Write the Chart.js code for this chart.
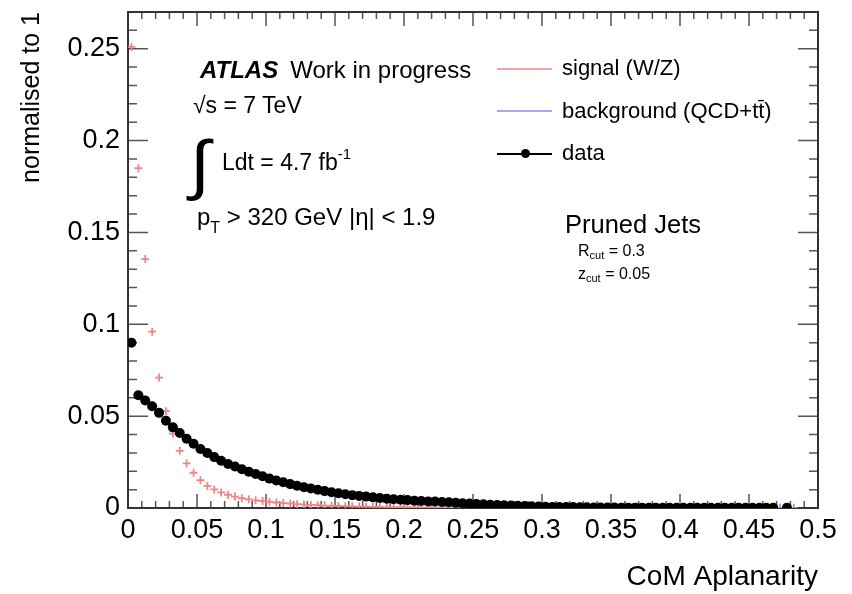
<!DOCTYPE html>
<html>
<head>
<meta charset="utf-8">
<script src="https://cdn.jsdelivr.net/npm/chart.js@4.4.0/dist/chart.umd.min.js"></script>
<style>
    body { margin: 0; background: #fff; }
    #wrap { position: relative; width: 852px; height: 594px; font-family: "Liberation Sans", Arial, sans-serif; color: #000; }
    #wrap div.t { position: absolute; line-height: 1; white-space: nowrap; }
    .sub { position: relative; }
    .lg { position: absolute; height: 2px; }
</style>
</head>
<body>
<div id="wrap">
    <canvas id="myChart" width="852" height="594"></canvas>

    <div class="t" style="left:200px; top:57.7px; font-size:24px;"><b><i>ATLAS</i></b><span style="margin-left:12px;">Work in progress</span></div>
    <div class="t" style="left:193px; top:93.5px; font-size:23px;">√s = 7 TeV</div>
    <div class="t" style="left:190px; top:131px; font-size:66px; transform:scaleX(1.1); transform-origin:left top;">∫</div>
    <div class="t" style="left:222px; top:150.5px; font-size:23px;">Ldt = 4.7 fb<span class="sub" style="font-size:15px; top:-11px;">-1</span></div>
    <div class="t" style="left:197px; top:204.7px; font-size:24px;">p<span class="sub" style="font-size:16px; top:8px;">T</span> &gt; 320 GeV |η| &lt; 1.9</div>

    <div class="lg" style="left:497px; top:68px; width:55px; background:#f4a3a3;"></div>
    <div class="t" style="left:562px; top:57.4px; font-size:22px;">signal (W/Z)</div>
    <div class="lg" style="left:497px; top:110px; width:55px; background:#a3aaf4;"></div>
    <div class="t" style="left:562px; top:100.4px; font-size:22px;">background (QCD+tt̄)</div>
    <div class="lg" style="left:497px; top:152.5px; width:55px; background:#000;"></div>
    <div style="position:absolute; left:520.5px; top:149px; width:9px; height:9px; border-radius:50%; background:#000;"></div>
    <div class="t" style="left:562px; top:142.4px; font-size:22px;">data</div>

    <div class="t" style="left:565px; top:212.4px; font-size:25.5px;">Pruned Jets</div>
    <div class="t" style="left:578px; top:242.5px; font-size:16px;">R<span class="sub" style="font-size:11px; top:3px;">cut</span> = 0.3</div>
    <div class="t" style="left:578px; top:265.5px; font-size:16px;">z<span class="sub" style="font-size:11px; top:3px;">cut</span> = 0.05</div>
</div>
<script>
// CoM aplanarity, bins of 0.005 starting at 0
const binLow = 0;
const binWidth = 0.005;

const xTickLabels = ["0", "0.05", "0.1", "0.15", "0.2", "0.25", "0.3", "0.35", "0.4", "0.45", "0.5"];
const yTickLabels = ["0", "0.05", "0.1", "0.15", "0.2", "0.25"];

const signal = [
    0.251, 0.185, 0.1355, 0.096, 0.071, 0.0527, 0.0405, 0.0311, 0.0243, 0.0192,
    0.0151, 0.012, 0.0101, 0.0085, 0.0072, 0.0062, 0.0053, 0.0047, 0.0042, 0.0038,
    0.0034, 0.003, 0.0027, 0.0024, 0.0021, 0.0019, 0.0017, 0.0015, 0.0013, 0.0012,
    0.0011, 0.001, 0.0009, 0.0008, 0.0007, 0.0006, 0.0006, 0.0005, 0.0005, 0.0004,
    0.0004, 0.0004, 0.0003, 0.0003, 0.0003, 0.0002, 0.0002, 0.0002,
];

const data = [
    0.09, 0.0614, 0.0585, 0.0554, 0.0518, 0.0475, 0.0439, 0.0408, 0.0377, 0.035,
    0.0321, 0.0299, 0.0277, 0.0257, 0.024, 0.0226, 0.0211, 0.0198, 0.0185, 0.0173,
    0.016, 0.015, 0.014, 0.013, 0.0121, 0.0113, 0.0106, 0.0099, 0.0092, 0.0086,
    0.008, 0.0075, 0.007, 0.0066, 0.0062, 0.0058, 0.0054, 0.0051, 0.0048, 0.0045,
    0.0043, 0.004, 0.0038, 0.0036, 0.0035, 0.0033, 0.0031, 0.0028, 0.0026, 0.0024,
    0.0022, 0.002, 0.0018, 0.0016, 0.0015, 0.0013, 0.0012, 0.0011, 0.0009, 0.0008,
    0.0007, 0.0006, 0.0006, 0.0005, 0.0005, 0.0004, 0.0004, 0.0003, 0.0003, 0.0003,
    0.0003, 0.0002, 0.0002, 0.0002, 0.0002, 0.0002, 0.0002, 0.0001, 0.0001, 0.0001,
    0.0001, 0.0001, 0.0001, 0.0001, 0.0001, 0.0001, 0.0001, 0.0001, 0.0001, 0.0001,
    0.0001, 0.0001, 0.0001, 0.0001, null, 0.0001,
];

const background = [
    0.09, 0.0614, 0.0585, 0.0554, 0.0518, 0.0475, 0.0439, 0.0408, 0.0377, 0.035,
    0.0321, 0.0299, 0.0277, 0.0257, 0.024, 0.0226, 0.0211, 0.0198, 0.0185, 0.0173,
    0.016, 0.015, 0.014, 0.013, 0.0121, 0.0113, 0.0106, 0.0099, 0.0092, 0.0086,
    0.008, 0.0075, 0.007, 0.0066, 0.0062, 0.0058, 0.0054, 0.0051, 0.0048, 0.0045,
    0.0043, 0.004, 0.0038, 0.0036, 0.0035, 0.0033, 0.0031, 0.0028, 0.0026, 0.0024,
    0.0022, 0.002, 0.0018, 0.0016, 0.0015, 0.0013, 0.0012, 0.0011, 0.0009, 0.0008,
    0.0007, 0.0006, 0.0006, 0.0005, 0.0005, 0.0004, 0.0004, 0.0003, 0.0003, 0.0003,
    0.0003, 0.0002, 0.0002, 0.0002, 0.0002, 0.0002, 0.0002, 0.0001, 0.0001, 0.0001,
    0.0001, 0.0001, 0.0001, 0.0001, 0.0001, 0.0001, 0.0001, 0.0001, 0.0001, 0.0001,
    0.0001, 0.0001, 0.0001, 0.0001, 0.0001, 0.0001, 0.0001,
];

const toPoints = values =>
    values.map((v, i) => ({ x: binLow + binWidth * (i + 0.5), y: v }));

// ROOT-style frame with inward ticks, drawn through the chart scales
const frameTicks = {
    id: "frameTicks",
    beforeDatasetsDraw(chart) {
        const { ctx, chartArea: a, scales } = chart;
        const x = scales.x;
        const y = scales.y;
        ctx.save();
        ctx.strokeStyle = "#555";
        ctx.lineWidth = 1.5;
        ctx.beginPath();
        for (let i = 0; i <= 50; i++) {
            const px = x.getPixelForValue(i * 0.01);
            const len = i % 5 === 0 ? 14 : 7;
            ctx.moveTo(px, a.bottom);
            ctx.lineTo(px, a.bottom - len);
            ctx.moveTo(px, a.top);
            ctx.lineTo(px, a.top + len);
        }
        for (let i = 0; i <= 27; i++) {
            const py = y.getPixelForValue(i * 0.01);
            const len = i % 5 === 0 ? 20 : 9;
            ctx.moveTo(a.left, py);
            ctx.lineTo(a.left + len, py);
            ctx.moveTo(a.right, py);
            ctx.lineTo(a.right - len, py);
        }
        ctx.stroke();
        ctx.strokeStyle = "#333";
        ctx.lineWidth = 2;
        ctx.strokeRect(a.left, a.top, a.right - a.left, a.bottom - a.top);
        ctx.restore();
    },
};

const onStep = v => Math.abs(v / 0.05 - Math.round(v / 0.05)) < 1e-6;

Chart.defaults.font.family = "'Liberation Sans', Arial, sans-serif";
Chart.defaults.color = "#000";

const ctx = document.getElementById("myChart").getContext("2d");
const chart = new Chart(ctx, {
    type: "scatter",
    data: {
        datasets: [
            {
                label: "data",
                data: toPoints(data),
                pointRadius: 5,
                pointHoverRadius: 5,
                backgroundColor: "#000",
                borderColor: "#000",
                borderWidth: 0,
            },
            {
                label: "signal (W/Z)",
                data: toPoints(signal),
                pointStyle: "cross",
                pointRadius: 4,
                pointHoverRadius: 4,
                borderColor: "#f08585",
                borderWidth: 1.8,
            },
            {
                label: "background (QCD+tt̄)",
                data: toPoints(background),
                pointStyle: "cross",
                pointRadius: 4,
                pointHoverRadius: 4,
                borderColor: "#8d96f0",
                borderWidth: 1.8,
            },
        ],
    },
    options: {
        responsive: false,
        animation: false,
        layout: { padding: { top: 12, right: 34, bottom: 0, left: 0 } },
        plugins: {
            legend: { display: false },
            tooltip: { enabled: false },
        },
        scales: {
            x: {
                type: "linear",
                min: 0,
                max: 0.5,
                grid: { display: false, drawTicks: false },
                border: { display: false },
                ticks: {
                    stepSize: 0.05,
                    padding: 6,
                    font: { size: 27 },
                    maxRotation: 0,
                    callback: v => (onStep(v) ? xTickLabels[Math.round(v / 0.05)] : null),
                },
                title: {
                    display: true,
                    text: "CoM Aplanarity",
                    align: "end",
                    font: { size: 28 },
                    padding: { top: 0, bottom: 0 },
                },
                afterFit: s => {
                    s.height = 86;
                    s.paddingLeft = 0;
                    s.paddingRight = 0;
                },
            },
            y: {
                min: 0,
                max: 0.27,
                grid: { display: false, drawTicks: false },
                border: { display: false },
                ticks: {
                    stepSize: 0.05,
                    padding: 8,
                    font: { size: 27 },
                    callback: v => (onStep(v) ? yTickLabels[Math.round(v / 0.05)] : null),
                },
                title: {
                    display: true,
                    text: "normalised to 1",
                    align: "end",
                    font: { size: 25 },
                    padding: { top: 17, bottom: 0 },
                },
                afterFit: s => {
                    s.width = 128;
                    s.paddingTop = 0;
                    s.paddingBottom = 0;
                },
            },
        },
    },
    plugins: [frameTicks],
});
</script>
</body>
</html>
